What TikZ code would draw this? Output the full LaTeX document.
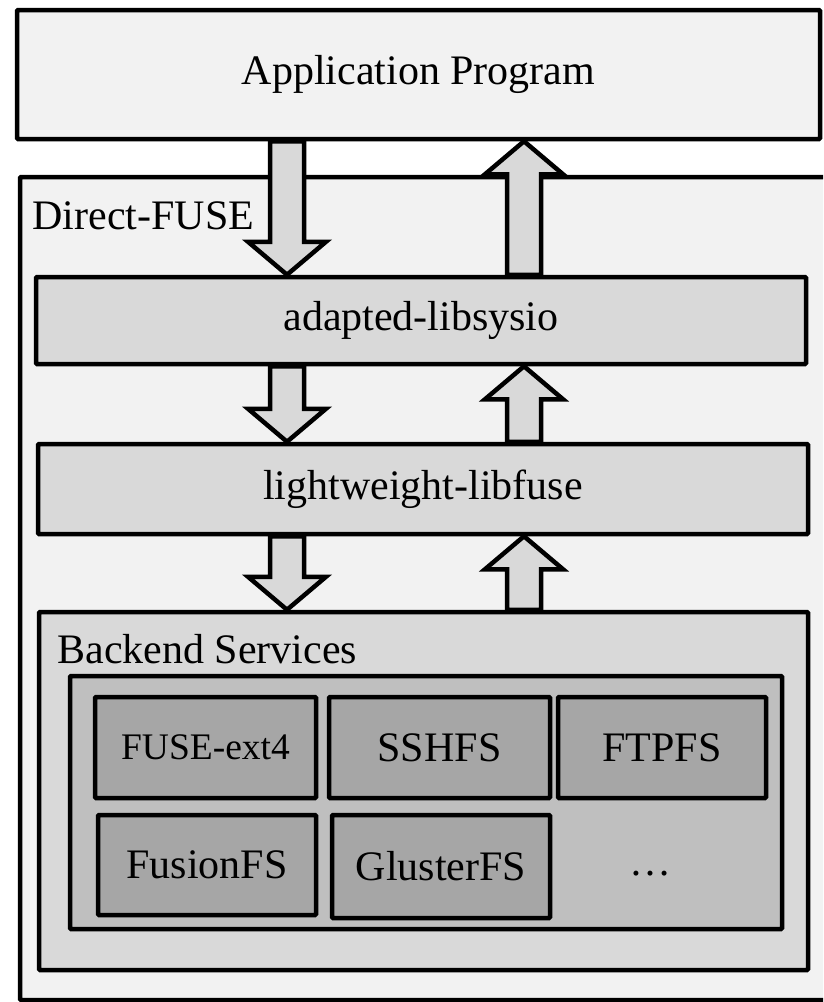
\documentclass[tikz,border=0pt]{standalone}
\usepackage{fontspec}
\setmainfont{Liberation Serif}
\usetikzlibrary{calc}

\definecolor{paleg}{HTML}{F2F2F2}
\definecolor{lightg}{HTML}{D9D9D9}
\definecolor{midg}{HTML}{BFBFBF}
\definecolor{darkg}{HTML}{A6A6A6}

\newcommand\bigtext{\fontsize{42}{48}\selectfont}
\newcommand\smalltext{\fontsize{37.5}{44}\selectfont}
\newcommand\shaftw{17pt}
\newcommand\headw{39pt}
\newcommand\headh{33pt}

% fat arrow from #1 (tail) to #2 (tip), vertical
\newcommand\blockarrow[2]{%
  \draw[flow] let \p1=(#1), \p2=(#2), \n1={ifthenelse(\y2>\y1,1,-1)} in
    (\x1-\shaftw,\y1) -- (\x1-\shaftw,\y2-\n1*\headh) -- (\x1-\headw,\y2-\n1*\headh)
    -- (\x2,\y2) -- (\x1+\headw,\y2-\n1*\headh) -- (\x1+\shaftw,\y2-\n1*\headh)
    -- (\x1+\shaftw,\y1) -- cycle;}

\begin{document}
\begin{tikzpicture}[x=1pt,y=-1pt,
  box/.style={draw,line width=4.5pt,rounded corners=1pt,inner sep=0pt,font=\bigtext},
  layer/.style={box,fill=lightg,minimum width=770pt},
  fsbox/.style={box,fill=darkg},
  flow/.style={draw,line width=4.5pt,fill=lightg,line join=miter}]
  \useasboundingbox (0,0) rectangle (823,1002);
  \clip (0,0) rectangle (823,1002);
  \fill[white] (0,0) rectangle (823,1002);

  \node [box,fill=paleg,minimum width=815pt,minimum height=823pt] (direct) at (427.5,588.5) {};
  \node [anchor=base west,font=\bigtext] (directlabel) at (29,229) {Direct-FUSE};
  \node [box,fill=paleg,minimum width=803pt,minimum height=129pt] (app) at (418.5,74.5) {Application Program};

  \node [layer,minimum height=87pt] (sysio) at (421,320.5) {adapted-libsysio};
  \node [layer,minimum height=90pt] (libfuse) at (423,489) {lightweight-libfuse};

  \node [box,fill=lightg,minimum width=769pt,minimum height=358pt] (backend) at (423.5,791) {};
  \node [anchor=base west,font=\bigtext] (backendlabel) at (54,663) {Backend Services};
  \node [box,fill=midg,minimum width=712pt,minimum height=253pt] (pool) at (426,802.5) {};

  \node [fsbox,minimum width=221pt,minimum height=101pt,font=\smalltext] (ext4) at (205.5,747.5) {FUSE-ext4};
  \node [fsbox,minimum width=221pt,minimum height=101pt] (sshfs) at (439.5,747.5) {SSHFS};
  \node [fsbox,minimum width=208pt,minimum height=101pt] (ftpfs) at (662,747.5) {FTPFS};
  \node [fsbox,minimum width=218pt,minimum height=100pt] (fusion) at (207,865) {FusionFS};
  \node [fsbox,minimum width=218pt,minimum height=103pt] (gluster) at (441,866.5) {GlusterFS};
  \node [anchor=base,font=\bigtext] (more) at (650,875) {\ldots};

  \coordinate (downcol) at (287,0);
  \coordinate (upcol) at (524,0);

  \blockarrow{app.south -| downcol}{sysio.north -| downcol}
  \blockarrow{sysio.north -| upcol}{app.south -| upcol}
  \blockarrow{sysio.south -| downcol}{libfuse.north -| downcol}
  \blockarrow{libfuse.north -| upcol}{sysio.south -| upcol}
  \blockarrow{libfuse.south -| downcol}{backend.north -| downcol}
  \blockarrow{backend.north -| upcol}{libfuse.south -| upcol}
\end{tikzpicture}
\end{document}
